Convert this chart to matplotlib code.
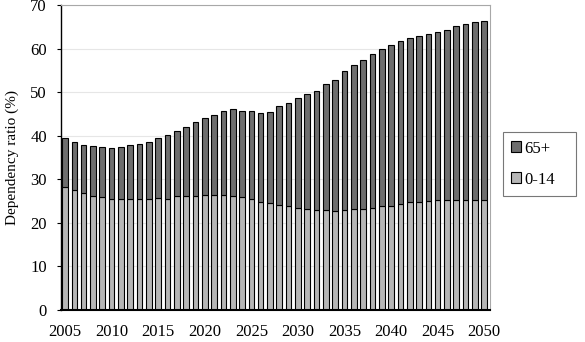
import matplotlib
matplotlib.use("Agg")
import matplotlib.pyplot as plt

years = list(range(2005, 2051))
young = [28.3, 27.5, 26.8, 26.3, 25.9, 25.5, 25.5, 25.5, 25.5, 25.5,
         25.7, 25.6, 26.1, 26.2, 26.2, 26.4, 26.5, 26.5, 26.2, 25.9,
         25.5, 24.8, 24.5, 24.2, 23.8, 23.5, 23.2, 23.0, 23.0, 22.8,
         23.0, 23.1, 23.3, 23.5, 23.8, 24.0, 24.3, 24.8, 24.8, 25.0,
         25.2, 25.2, 25.3, 25.3, 25.3, 25.2]
total = [39.4, 38.5, 38.0, 37.7, 37.5, 37.2, 37.5, 37.8, 38.2, 38.7,
         39.4, 40.2, 41.1, 42.0, 43.1, 44.1, 44.8, 45.6, 46.1, 45.8,
         45.6, 45.2, 45.5, 46.9, 47.6, 48.6, 49.6, 50.2, 51.8, 52.9,
         54.8, 56.2, 57.5, 58.8, 60.0, 60.9, 61.8, 62.4, 62.9, 63.5,
         63.8, 64.4, 65.2, 65.8, 66.2, 66.4]
old = [t - y for t, y in zip(total, young)]

plt.rcParams['font.family'] = ['Liberation Serif', 'DejaVu Serif']
fig = plt.figure(figsize=(5.85, 3.42), dpi=100)
ax = fig.add_axes([0.104, 0.0936, 0.7333, 0.891])

b1 = ax.bar(years, young, width=0.6, color='#b6b6b6', edgecolor='black', linewidth=0.8, label='0-14', zorder=2)
b2 = ax.bar(years, old, width=0.6, bottom=young, color='#6e6e6e', edgecolor='black', linewidth=0.8, label='65+', zorder=2)

ax.set_xlim(2004.55, 2050.6)
ax.set_ylim(0, 70)
ax.set_xticks(range(2005, 2051, 5))
ax.set_yticks(range(0, 71, 10))
ax.tick_params(axis='x', length=0, labelsize=12, pad=10)
ax.tick_params(axis='y', length=3, labelsize=12, pad=7)
ax.yaxis.grid(True, color='#e6e6e6', linewidth=0.8, zorder=0)
ax.set_axisbelow(True)
for s in ['top', 'right']:
    ax.spines[s].set_color('#a8a8a8')
ax.spines['left'].set_linewidth(1.0)
ax.spines['bottom'].set_linewidth(1.5)
ax.set_ylabel('Dependency ratio (%)', fontsize=11, labelpad=8)

leg = fig.legend([b2, b1], ['65+', '0-14'], loc='lower left',
                 bbox_to_anchor=(0.859, 0.427, 0.125, 0.184), mode='expand',
                 fontsize=12, frameon=True, fancybox=False, handlelength=0.6,
                 handleheight=0.6, handletextpad=0.2, labelspacing=0.9,
                 borderpad=0.5, borderaxespad=0)
leg.get_frame().set_edgecolor('#555555')
leg.get_frame().set_linewidth(0.8)

fig.savefig('out.png', dpi=100)
